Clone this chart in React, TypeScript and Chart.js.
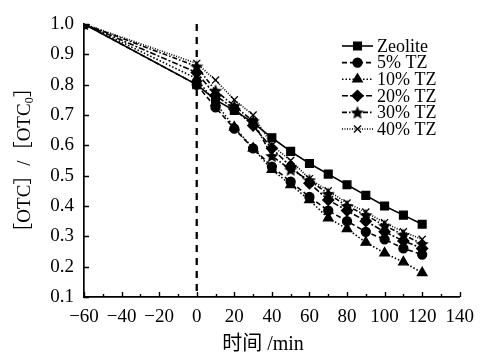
import React, { useEffect, useRef } from "react";
import { Chart, registerables } from "chart.js";
import { drawPoint } from "chart.js/helpers";

Chart.register(...registerables);

// Sampling times (min); adsorption in the dark until 0, then irradiation
const times = [-60, 0, 10, 20, 30, 40, 50, 60, 70, 80, 90, 100, 110, 120];

// [OTC]/[OTC0] for each catalyst
const zeolite = [1.0, 0.8, 0.75, 0.715, 0.675, 0.625, 0.58, 0.54, 0.505, 0.47, 0.435, 0.4, 0.37, 0.34];
const tz5 = [1.0, 0.8, 0.725, 0.655, 0.59, 0.53, 0.48, 0.43, 0.385, 0.35, 0.315, 0.29, 0.26, 0.24];
const tz10 = [1.0, 0.82, 0.74, 0.66, 0.59, 0.52, 0.47, 0.42, 0.36, 0.325, 0.28, 0.245, 0.215, 0.18];
const tz20 = [1.0, 0.84, 0.765, 0.72, 0.665, 0.59, 0.53, 0.475, 0.42, 0.385, 0.35, 0.315, 0.285, 0.26];
const tz30 = [1.0, 0.86, 0.78, 0.73, 0.68, 0.565, 0.52, 0.485, 0.44, 0.4, 0.37, 0.335, 0.305, 0.275];
const tz40 = [1.0, 0.87, 0.815, 0.75, 0.7, 0.6, 0.55, 0.49, 0.45, 0.41, 0.38, 0.345, 0.315, 0.29];

const seriesLabels = ["Zeolite", "5% TZ", "10% TZ", "20% TZ", "30% TZ", "40% TZ"];
const seriesValues = [zeolite, tz5, tz10, tz20, tz30, tz40];

const xTicks = [-60, -40, -20, 0, 20, 40, 60, 80, 100, 120, 140];
const yTicks = [0.1, 0.2, 0.3, 0.4, 0.5, 0.6, 0.7, 0.8, 0.9, 1.0];
const xTitle = "时间 /min";

const SERIF = '"Liberation Serif", "Times New Roman", "Noto Sans CJK SC", serif';
const INK = "#000";

function makeStar(size: number): HTMLCanvasElement {
  const c = document.createElement("canvas");
  c.width = size;
  c.height = size;
  const g = c.getContext("2d")!;
  const cx = size / 2;
  const cy = size / 2 + 0.6;
  const R = size / 2;
  const r = R * 0.45;
  g.beginPath();
  for (let i = 0; i < 10; i++) {
    const a = -Math.PI / 2 + (i * Math.PI) / 5;
    const rr = i % 2 === 0 ? R : r;
    const px = cx + rr * Math.cos(a);
    const py = cy + rr * Math.sin(a);
    if (i === 0) g.moveTo(px, py);
    else g.lineTo(px, py);
  }
  g.closePath();
  g.fillStyle = INK;
  g.fill();
  return c;
}

export default function App() {
  const ref = useRef<HTMLCanvasElement>(null);

  useEffect(() => {
    const canvas = ref.current;
    if (!canvas) return;
    const star = makeStar(14);

    const styles: any[] = [
      { pointStyle: "rect", radius: 5.5, dash: [] },
      { pointStyle: "circle", radius: 4.5, dash: [5, 3] },
      { pointStyle: "triangle", radius: 5.5, dash: [1.5, 2] },
      { pointStyle: "rectRot", radius: 5.5, dash: [6, 2, 2, 2] },
      { pointStyle: star, radius: 7, dash: [5, 2, 1.5, 2] },
      { pointStyle: "crossRot", radius: 5, dash: [1, 1.5] },
    ];

    const datasets = seriesLabels.map((label, i) => ({
      label,
      data: times.map((t, j) => ({ x: t, y: seriesValues[i][j] })),
      borderColor: INK,
      backgroundColor: INK,
      borderWidth: 1.6,
      borderDash: styles[i].dash,
      pointStyle: styles[i].pointStyle,
      pointRadius: styles[i].radius,
      pointBorderWidth: 1.3,
      pointBackgroundColor: INK,
      pointBorderColor: INK,
      tension: 0,
    }));

    const decorations = {
      id: "decorations",
      afterDraw(chart: any) {
        const { ctx, chartArea: a, scales } = chart;
        const xs = scales.x;
        const ys = scales.y;
        ctx.save();
        ctx.strokeStyle = INK;
        ctx.fillStyle = INK;

        // inward tick marks
        ctx.lineWidth = 1.4;
        ctx.setLineDash([]);
        ctx.beginPath();
        for (let v = -60; v <= 140; v += 10) {
          const px = Math.round(xs.getPixelForValue(v)) + 0.5;
          const len = v % 20 === 0 ? 5 : 3;
          ctx.moveTo(px, a.bottom);
          ctx.lineTo(px, a.bottom - len);
        }
        yTicks.forEach((v) => {
          const py = Math.round(ys.getPixelForValue(v)) + 0.5;
          ctx.moveTo(a.left, py);
          ctx.lineTo(a.left + 5, py);
        });
        ctx.stroke();

        // start of irradiation
        const x0 = xs.getPixelForValue(0);
        ctx.lineWidth = 2.3;
        ctx.setLineDash([7, 6]);
        ctx.beginPath();
        ctx.moveTo(x0, a.top);
        ctx.lineTo(x0, a.bottom);
        ctx.stroke();
        ctx.setLineDash([]);

        // x title
        ctx.font = `20px ${SERIF}`;
        ctx.textAlign = "center";
        ctx.textBaseline = "middle";
        ctx.fillText(xTitle, 263, 345);

        // y title with subscript
        ctx.translate(25, 160);
        ctx.rotate(-Math.PI / 2);
        const main = "［OTC］/［OTC";
        const sub = "0";
        const tail = "］";
        ctx.font = `19px ${SERIF}`;
        const wMain = ctx.measureText(main).width;
        const wTail = ctx.measureText(tail).width;
        ctx.font = `12px ${SERIF}`;
        const wSub = ctx.measureText(sub).width;
        const total = wMain + wSub + wTail;
        let cx = -total / 2;
        ctx.textAlign = "left";
        ctx.textBaseline = "middle";
        ctx.font = `19px ${SERIF}`;
        ctx.fillText(main, cx, 0);
        cx += wMain;
        ctx.font = `12px ${SERIF}`;
        ctx.fillText(sub, cx, 5);
        cx += wSub;
        ctx.font = `19px ${SERIF}`;
        ctx.fillText(tail, cx, 0);
        ctx.restore();

        // legend
        ctx.save();
        const lx0 = 342;
        const lx1 = 373;
        const ly0 = 46;
        const step = 16.6;
        chart.data.datasets.forEach((ds: any, i: number) => {
          const y = ly0 + i * step;
          ctx.strokeStyle = INK;
          ctx.fillStyle = INK;
          ctx.lineWidth = 1.6;
          ctx.setLineDash(ds.borderDash || []);
          ctx.beginPath();
          ctx.moveTo(lx0, y);
          ctx.lineTo(lx1, y);
          ctx.stroke();
          ctx.setLineDash([]);
          ctx.lineWidth = 1.3;
          drawPoint(ctx, { pointStyle: ds.pointStyle, radius: ds.pointRadius, rotation: 0, borderWidth: 1.3 }, (lx0 + lx1) / 2, y);
          ctx.font = `18px ${SERIF}`;
          ctx.textAlign = "left";
          ctx.textBaseline = "middle";
          ctx.fillText(ds.label, lx1 + 4, y + 1);
        });
        ctx.restore();
      },
    };

    const chart = new Chart(canvas, {
      type: "line",
      data: { datasets },
      options: {
        animation: false,
        responsive: false,
        maintainAspectRatio: false,
        layout: { padding: { left: 0, right: 21, top: 24, bottom: 0 } },
        plugins: { legend: { display: false }, tooltip: { enabled: false } },
        scales: {
          x: {
            type: "linear",
            min: -60,
            max: 140,
            afterBuildTicks: (s: any) => {
              s.ticks = xTicks.map((v) => ({ value: v }));
            },
            afterFit: (s: any) => {
              s.height = 59;
            },
            ticks: {
              color: INK,
              font: { family: SERIF, size: 19 },
              padding: 9,
              maxRotation: 0,
              autoSkip: false,
              callback: (v: any) => (v < 0 ? "−" + Math.abs(v) : String(v)),
            },
            grid: { drawOnChartArea: false, drawTicks: false },
            border: { display: true, color: INK, width: 1.7 },
          },
          y: {
            type: "linear",
            min: 0.1,
            max: 1.0,
            afterBuildTicks: (s: any) => {
              s.ticks = yTicks.map((v) => ({ value: v }));
            },
            afterFit: (s: any) => {
              s.width = 84;
            },
            ticks: {
              color: INK,
              font: { family: SERIF, size: 19 },
              padding: 10,
              autoSkip: false,
              callback: (v: any) => Number(v).toFixed(1),
            },
            grid: { drawOnChartArea: false, drawTicks: false },
            border: { display: true, color: INK, width: 1.7 },
          },
        },
      },
      plugins: [decorations],
    });

    return () => chart.destroy();
  }, []);

  return (
    <div style={{ position: "absolute", left: 0, top: 0, width: 483, height: 356, background: "#fff" }}>
      <canvas ref={ref} width={483} height={356} style={{ display: "block", width: 483, height: 356 }} />
    </div>
  );
}
